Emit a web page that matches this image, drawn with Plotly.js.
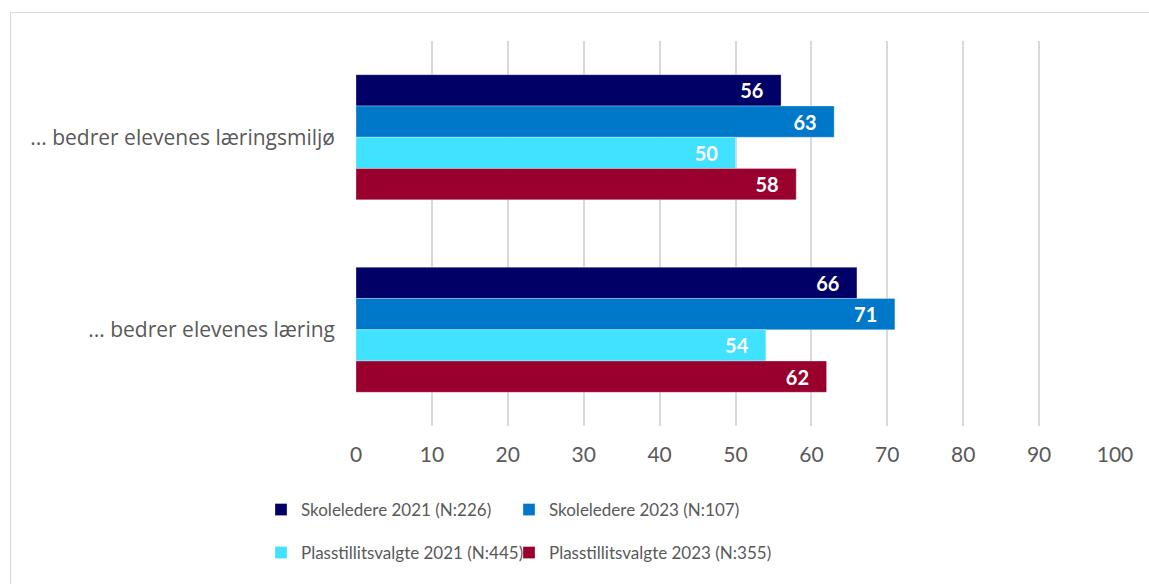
<!DOCTYPE html>
<html>
<head>
<meta charset="utf-8">
<script src="https://cdn.plot.ly/plotly-3.0.1.min.js"></script>
<style>html,body{margin:0;padding:0;background:#fff;}#chart{width:1149px;height:584px;}</style>
</head>
<body>
<div id="chart"></div>
<script>
const categories = ["... bedrer elevenes læringsmiljø", "... bedrer elevenes læring"];
const seriesNames = ["Skoleledere 2021 (N:226)", "Skoleledere 2023 (N:107)", "Plasstillitsvalgte 2021 (N:445)", "Plasstillitsvalgte 2023 (N:355)"];
const skoleledere2021 = [56, 66];
const skoleledere2023 = [63, 71];
const plass2021 = [50, 54];
const plass2023 = [58, 62];
const xTicks = [0, 10, 20, 30, 40, 50, 60, 70, 80, 90, 100];

const colors = ["#000066", "#0078CA", "#40E2FF", "#99002E"];
const values = [skoleledere2021, skoleledere2023, plass2021, plass2023];
const legendIds = ["legend", "legend2", "legend3", "legend4"];
const FONT = "Lato, 'Open Sans', sans-serif";
const CATFONT = "'Open Sans', Lato, sans-serif";

const traces = values.map((v, i) => ({
  type: "bar",
  orientation: "h",
  name: seriesNames[i],
  y: categories,
  x: v,
  text: v.map(String),
  texttemplate: "%{text}\u00A0\u00A0\u00A0",
  textposition: "inside",
  insidetextanchor: "end",
  textfont: {family: FONT, size: 20, color: "#ffffff", weight: "bold"},
  marker: {color: colors[i], line: {color: "rgba(255,255,255,0.5)", width: 0.6}},
  legend: legendIds[i],
  hoverinfo: "x+name"
}));

const legendBase = {
  orientation: "h",
  xanchor: "left",
  yanchor: "middle",
  font: {family: FONT, size: 17, color: "#595959"},
  bgcolor: "rgba(0,0,0,0)",
  itemwidth: 30
};

const px2x = p => (p - 356) / 759;
const px2y = p => (426 - p) / 385;

const layout = {
  width: 1149,
  height: 584,
  margin: {l: 356, r: 34, t: 41, b: 158},
  paper_bgcolor: "#ffffff",
  plot_bgcolor: "#ffffff",
  barmode: "group",
  bargap: 0.35,
  bargroupgap: 0,
  showlegend: true,
  xaxis: {
    range: [0, 100],
    tickvals: xTicks,
    ticktext: xTicks.map(String),
    showgrid: true,
    gridcolor: "#d9d9d9",
    gridwidth: 2,
    zeroline: false,
    showline: false,
    ticks: "",
    ticklabelstandoff: 14,
    tickfont: {family: FONT, size: 21, color: "#595959"},
    fixedrange: true
  },
  yaxis: {
    type: "category",
    autorange: "reversed",
    showgrid: false,
    zeroline: false,
    showline: false,
    ticks: "",
    ticklabelstandoff: 20,
    tickfont: {family: CATFONT, size: 21, color: "#595959"},
    fixedrange: true
  },
  legend: Object.assign({}, legendBase, {x: px2x(261), y: px2y(510)}),
  legend2: Object.assign({}, legendBase, {x: px2x(509), y: px2y(510)}),
  legend3: Object.assign({}, legendBase, {x: px2x(261), y: px2y(553)}),
  legend4: Object.assign({}, legendBase, {x: px2x(509), y: px2y(553)}),
  shapes: [{
    type: "rect",
    xref: "paper", yref: "paper",
    x0: px2x(10.5), x1: 1.2,
    y0: -0.6, y1: px2y(12.5),
    line: {color: "#d9d9d9", width: 1},
    fillcolor: "rgba(0,0,0,0)",
    layer: "below"
  }]
};

Plotly.newPlot("chart", traces, layout, {displayModeBar: false, staticPlot: true});
</script>
</body>
</html>
